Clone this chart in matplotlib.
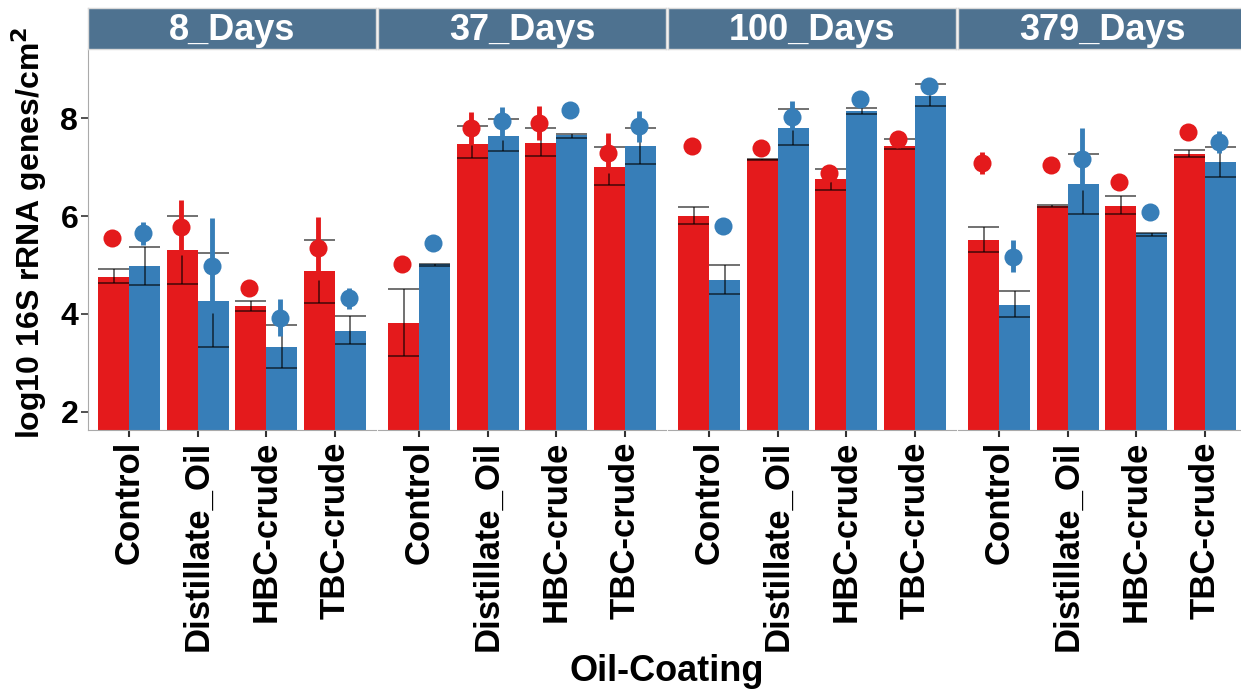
import numpy as np
import matplotlib.pyplot as plt

plt.rcParams['font.family'] = ['Liberation Sans', 'DejaVu Sans']
plt.rcParams['font.weight'] = 'bold'

days = ['8_Days', '37_Days', '100_Days', '379_Days']
coatings = ['Control', 'Distillate_Oil', 'HBC-crude', 'TBC-crude']

# bar means and error limits, one row per panel, columns follow coatings
red_bar = [[4.76, 5.31, 4.17, 4.88],
           [3.81, 7.48, 7.50, 7.01],
           [6.01, 7.16, 6.75, 7.43],
           [5.51, 6.21, 6.21, 7.26]]
red_bar_hi = [[4.91, 6.01, 4.27, 5.52],
              [4.51, 7.84, 7.80, 7.40],
              [6.19, 7.17, 6.96, 7.58],
              [5.78, 6.23, 6.40, 7.35]]
red_bar_lo = [[4.64, 4.61, 4.07, 4.23],
              [3.15, 7.18, 7.23, 6.63],
              [5.84, 7.15, 6.54, 7.36],
              [5.27, 6.19, 6.04, 7.20]]
blue_bar = [[4.97, 4.27, 3.33, 3.66],
            [5.02, 7.64, 7.65, 7.42],
            [4.69, 7.79, 8.14, 8.45],
            [4.18, 6.65, 5.65, 7.10]]
blue_bar_hi = [[5.36, 5.25, 3.77, 3.96],
               [5.03, 7.98, 7.67, 7.79],
               [5.00, 8.18, 8.20, 8.69],
               [4.46, 7.27, 5.66, 7.40]]
blue_bar_lo = [[4.59, 3.33, 2.89, 3.38],
               [4.98, 7.33, 7.59, 7.06],
               [4.40, 7.44, 8.09, 8.24],
               [3.94, 6.04, 5.60, 6.80]]

# point estimates with their ranges
red_pt = [[5.55, 5.77, 4.54, 5.34],
          [5.01, 7.79, 7.89, 7.28],
          [7.43, 7.38, 6.87, 7.57],
          [7.09, 7.04, 6.70, 7.72]]
red_pt_hi = [[5.57, 6.33, 4.56, 5.97],
             [5.03, 8.13, 8.24, 7.70],
             [7.45, 7.40, 6.98, 7.59],
             [7.31, 7.06, 6.72, 7.74]]
red_pt_lo = [[5.53, 5.20, 4.52, 4.69],
             [4.99, 7.45, 7.55, 6.87],
             [7.41, 7.36, 6.74, 7.55],
             [6.86, 7.02, 6.68, 7.70]]
blue_pt = [[5.65, 4.98, 3.92, 4.32],
           [5.44, 7.94, 8.16, 7.84],
           [5.80, 8.03, 8.38, 8.66],
           [5.17, 7.16, 6.09, 7.52]]
blue_pt_hi = [[5.88, 5.95, 4.30, 4.54],
              [5.46, 8.22, 8.18, 8.15],
              [5.82, 8.35, 8.40, 8.68],
              [5.51, 7.79, 6.11, 7.74]]
blue_pt_lo = [[5.41, 4.01, 3.55, 4.10],
              [5.42, 7.55, 8.14, 7.52],
              [5.78, 7.76, 8.36, 8.64],
              [4.85, 6.53, 6.07, 7.28]]

red = '#E41A1C'
blue = '#377EB8'
strip_col = '#4E7290'

fig = plt.figure(figsize=(12.41, 6.91), dpi=100)
W, H = 1241.0, 691.0
left, top, bottom = 88, 50, 430
pw, gap = 288, 2

x = np.arange(len(coatings))
bw = 0.45

for i, d in enumerate(days):
    x0 = left + i * (pw + gap)
    ax = fig.add_axes([x0 / W, (H - bottom) / H, pw / W, (bottom - top) / H])
    sa = fig.add_axes([x0 / W, (H - 49) / H, pw / W, 41 / H])
    sa.set_facecolor(strip_col)
    sa.set_xticks([])
    sa.set_yticks([])
    for s in sa.spines.values():
        s.set_color('#d9d9d9')
        s.set_linewidth(1)
    sa.text(0.5, 0.45, d, color='white', fontsize=26, fontweight='bold',
            ha='center', va='center', transform=sa.transAxes)

    for vals, hi, lo, pt, phi, plo, col, off in [
            (red_bar[i], red_bar_hi[i], red_bar_lo[i], red_pt[i], red_pt_hi[i], red_pt_lo[i], red, -bw / 2),
            (blue_bar[i], blue_bar_hi[i], blue_bar_lo[i], blue_pt[i], blue_pt_hi[i], blue_pt_lo[i], blue, bw / 2)]:
        vals = np.array(vals)
        xs = x + off
        ax.bar(xs, vals, width=bw, color=col, zorder=2)
        # bar error bars with caps as wide as the bar
        ax.vlines(xs, lo, hi, color='black', alpha=0.6, lw=1.3, zorder=3)
        ax.hlines(hi, xs - bw / 2, xs + bw / 2, color='black', alpha=0.6, lw=1.3, zorder=3)
        ax.hlines(lo, xs - bw / 2, xs + bw / 2, color='black', alpha=0.6, lw=1.3, zorder=3)
        # points with their own ranges
        ax.vlines(xs - 0.02, plo, phi, color=col, lw=3.5, zorder=4)
        ax.plot(xs - 0.02, pt, 'o', color=col, ms=13, mec='none', zorder=5)

    ax.set_xlim(-0.6, 3.6)
    ax.set_ylim(1.63, 9.39)
    ax.set_xticks(x)
    ax.set_xticklabels(coatings, rotation=90, fontsize=25, fontweight='bold')
    ax.tick_params(axis='x', length=5, width=1.5, color='#333333', pad=3)
    for s in ['top', 'right']:
        ax.spines[s].set_visible(False)
    ax.spines['bottom'].set_color('#aaaaaa')
    ax.spines['left'].set_color('#aaaaaa')
    if i == 0:
        ax.set_yticks([2, 4, 6, 8])
        ax.set_yticklabels(['2', '4', '6', '8'], fontsize=23, fontweight='bold')
        ax.tick_params(axis='y', length=5, width=1.2, color='#333333', pad=2)
        ax.set_ylabel('log10 16S rRNA genes/cm$^\\mathbf{2}$', fontsize=23,
                      fontweight='bold')
        ax.yaxis.set_label_coords(-0.135, 0.52)
    else:
        ax.set_yticks([])
        ax.spines['left'].set_visible(False)

fig.text((left + (4 * pw + 3 * gap) / 2) / W, 2 / H, 'Oil-Coating', fontsize=26,
         fontweight='bold', ha='center', va='bottom')

fig.savefig('out.png', dpi=100)
